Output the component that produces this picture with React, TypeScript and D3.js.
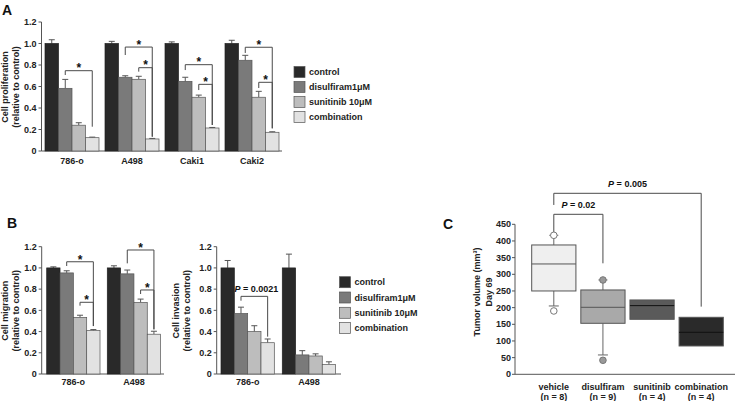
import React from "react";
import * as d3 from "d3";

// ---------- DATA ----------
const SERIES = ["control", "disulfiram1μM", "sunitinib 10μM", "combination"];
const BAR_COLORS = ["#292929", "#7a7a7a", "#bdbdbd", "#e2e2e2"];

const A_CATS = ["786-o", "A498", "Caki1", "Caki2"];
const A_MEAN = [
  [1.0, 0.583, 0.24, 0.124],
  [1.0, 0.686, 0.667, 0.112],
  [1.0, 0.648, 0.5, 0.214],
  [1.0, 0.844, 0.5, 0.174],
];
const A_ERR = [
  [0.035, 0.083, 0.023, 0.005],
  [0.02, 0.014, 0.028, 0.005],
  [0.015, 0.038, 0.02, 0.005],
  [0.03, 0.046, 0.055, 0.005],
];
// brackets: group, from series, to series, top value, left end, right end, label
const A_BRACKETS = [
  { g: 0, a: 1, b: 3, top: 0.747, le: 0.707, re: 0.226, label: "*" },
  { g: 1, a: 1, b: 3, top: 0.967, le: 0.893, re: 0.133, label: "*" },
  { g: 1, a: 2, b: 3, top: 0.775, le: 0.738, re: 0.133, label: "*" },
  { g: 2, a: 1, b: 3, top: 0.803, le: 0.753, re: 0.242, label: "*" },
  { g: 2, a: 2, b: 3, top: 0.62, le: 0.567, re: 0.242, label: "*" },
  { g: 3, a: 1, b: 3, top: 0.965, le: 0.912, re: 0.211, label: "*" },
  { g: 3, a: 2, b: 3, top: 0.639, le: 0.586, re: 0.211, label: "*" },
];

const B_CATS = ["786-o", "A498"];
const MIG_MEAN = [
  [1.0, 0.953, 0.534, 0.41],
  [1.0, 0.944, 0.675, 0.375],
];
const MIG_ERR = [
  [0.01, 0.02, 0.02, 0.009],
  [0.02, 0.036, 0.031, 0.028],
];
const MIG_BRACKETS = [
  { g: 0, a: 1, b: 3, top: 1.058, le: 1.018, re: 0.452, label: "*" },
  { g: 0, a: 2, b: 3, top: 0.676, le: 0.644, re: 0.452, label: "*" },
  { g: 1, a: 1, b: 3, top: 1.169, le: 1.043, re: 0.421, label: "*" },
  { g: 1, a: 2, b: 3, top: 0.792, le: 0.754, re: 0.421, label: "*" },
];
const INV_MEAN = [
  [1.0, 0.57, 0.4, 0.295],
  [1.0, 0.18, 0.17, 0.09],
];
const INV_ERR = [
  [0.07, 0.06, 0.055, 0.035],
  [0.13, 0.04, 0.02, 0.025],
];
const INV_BRACKETS = [
  { g: 0, a: 1, b: 3, top: 0.732, le: 0.691, re: 0.352, label: "P = 0.0021" },
];

const Y_TICKS_REL = [0, 0.2, 0.4, 0.6, 0.8, 1.0, 1.2];

const C_CATS = ["vehicle", "disulfiram", "sunitinib", "combination"];
const C_N = [8, 9, 4, 4];
const C_Q1 = [250, 153, 165, 85];
const C_MED = [331, 201, 206, 126];
const C_Q3 = [388, 253, 223, 171];
const C_LO = [205, 58, null, null];
const C_HI = [417, 283, null, null];
const C_OUT = [[417, 190], [283, 42], [], []];
const C_FILL = ["#efefef", "#a9a9a9", "#5a5a5a", "#2a2a2a"];
const C_TICKS = [0, 50, 100, 150, 200, 250, 300, 350, 400, 450];
const C_BRACKETS = [
  { a: 0, b: 1, top: 480, le: 426, re: 333, label: "0.02" },
  { a: 0, b: 3, top: 543, le: 508, re: 203, label: "0.005" },
];

// ---------- STYLE ----------
const FONT = "'Liberation Sans', Arial, Helvetica, sans-serif";
const AX = "#555";
const BR = "#4a4a4a";

type BarPanelProps = {
  cats: string[];
  means: number[][];
  errs: number[][];
  brackets: any[];
  axisX: number;
  y0: number;
  y1: number;
  xRange: [number, number];
  padInner: number;
  axisEnd: number;
  labelY: number;
  titleX: [number, number];
  title: string[];
};

function BarPanel(p: BarPanelProps) {
  const y = d3.scaleLinear().domain([0, 1.2]).range([p.y0, p.y1]);
  const xg = d3.scaleBand<string>().domain(p.cats).range(p.xRange).paddingInner(p.padInner).paddingOuter(0);
  const xs = d3.scaleBand<string>().domain(SERIES).range([0, xg.bandwidth()]);
  const bw = xs.bandwidth();
  const fmt = (v: number) => (v === 0 ? "0" : d3.format(".1f")(v));
  const cx = (g: number, s: number) => (xg(p.cats[g]) as number) + (xs(SERIES[s]) as number) + bw / 2;
  const titleCY = (p.y0 + p.y1) / 2 + 0.5;
  return (
    <g>
      {/* y title */}
      {p.title.map((t, i) => (
        <text
          key={i}
          transform={`translate(${p.titleX[i]},${titleCY}) rotate(-90)`}
          textAnchor="middle"
          dominantBaseline="central"
          fontSize={9}
          fontWeight="bold"
          fill="#222"
        >
          {t}
        </text>
      ))}
      {/* axes */}
      <line x1={p.axisX} x2={p.axisX} y1={p.y1} y2={p.y0} stroke={AX} strokeWidth={1} />
      <line x1={p.axisX} x2={p.axisEnd} y1={p.y0} y2={p.y0} stroke={AX} strokeWidth={1} />
      {Y_TICKS_REL.map((t) => (
        <g key={t}>
          <line x1={p.axisX - 3} x2={p.axisX} y1={y(t)} y2={y(t)} stroke={AX} />
          <text x={p.axisX - 5} y={y(t)} dy="0.35em" textAnchor="end" fontSize={9} fontWeight="bold" fill="#222">
            {fmt(t)}
          </text>
        </g>
      ))}
      {/* bars */}
      {p.cats.map((c, gi) => (
        <g key={c}>
          {SERIES.map((s, si) => {
            const x = (xg(c) as number) + (xs(s) as number);
            const v = p.means[gi][si];
            const e = p.errs[gi][si];
            const xc = x + bw / 2;
            return (
              <g key={s}>
                <line x1={xc} x2={xc} y1={y(v)} y2={y(v + e)} stroke="#555" strokeWidth={1} />
                <line x1={xc - 3} x2={xc + 3} y1={y(v + e)} y2={y(v + e)} stroke="#555" strokeWidth={1} />
                <rect x={x} y={y(v)} width={bw} height={p.y0 - y(v)} fill={BAR_COLORS[si]} stroke={si === 0 ? "#222" : "#555"} strokeWidth={0.7} />
              </g>
            );
          })}
          <text x={(xg(c) as number) + xg.bandwidth() / 2} y={p.labelY} textAnchor="middle" fontSize={9} fontWeight="bold" fill="#222">
            {c}
          </text>
        </g>
      ))}
      {/* brackets */}
      {p.brackets.map((b, i) => {
        const xa = cx(b.g, b.a);
        const xb = cx(b.g, b.b);
        const yt = y(b.top);
        const isStar = b.label === "*";
        return (
          <g key={i}>
            <path
              d={`M${xa},${y(b.le)}V${yt}H${xb}V${y(b.re)}`}
              fill="none"
              stroke={BR}
              strokeWidth={1}
            />
            {isStar ? (
              <text x={(xa + xb) / 2} y={yt + 1.8} textAnchor="middle" fontSize={12} fontWeight="bold" fill="#111">
                *
              </text>
            ) : (
              <text x={(xa + xb) / 2 + 2} y={yt - 4.5} textAnchor="middle" fontSize={9} fontWeight="bold" fill="#111">
                <tspan fontStyle="italic">P</tspan>
                {b.label.slice(1)}
              </text>
            )}
          </g>
        );
      })}
    </g>
  );
}

function Legend({ x, y, step }: { x: number; y: number; step: number }) {
  return (
    <g>
      {SERIES.map((s, i) => (
        <g key={s}>
          <rect x={x} y={y + i * step} width={11} height={11} fill={BAR_COLORS[i]} stroke="#555" strokeWidth={0.7} />
          <text x={x + 15} y={y + i * step + 5.5} dy="0.35em" fontSize={9} fontWeight="bold" fill="#222">
            {s}
          </text>
        </g>
      ))}
    </g>
  );
}

function BoxPanel() {
  const y = d3.scaleLinear().domain([0, 450]).range([374.3, 224.3]);
  const x = d3.scaleBand<string>().domain(C_CATS).range([531.7, 723.3]).paddingInner(0.1).paddingOuter(0);
  const bw = x.bandwidth();
  const axisX = 515;
  const cxOf = (i: number) => (x(C_CATS[i]) as number) + bw / 2;
  return (
    <g>
      {/* y title */}
      <text transform={`translate(477,292) rotate(-90)`} textAnchor="middle" dominantBaseline="central" fontSize={9} fontWeight="bold" fill="#222">
        Tumor volume (mm³)
      </text>
      <text transform={`translate(489,292) rotate(-90)`} textAnchor="middle" dominantBaseline="central" fontSize={9} fontWeight="bold" fill="#222">
        Day 69
      </text>
      <line x1={axisX} x2={axisX} y1={y(450)} y2={y(0)} stroke={AX} />
      {C_TICKS.map((t) => (
        <g key={t}>
          <line x1={axisX - 3} x2={axisX} y1={y(t)} y2={y(t)} stroke={AX} />
          <text x={axisX - 4} y={y(t)} dy="0.35em" textAnchor="end" fontSize={9} fontWeight="bold" fill="#222">
            {t}
          </text>
        </g>
      ))}
      {/* brackets */}
      {C_BRACKETS.map((b, i) => {
        const xa = cxOf(b.a);
        const xb = cxOf(b.b);
        const yt = y(b.top);
        return (
          <g key={i}>
            <path d={`M${xa},${y(b.le)}V${yt}H${xb}V${y(b.re)}`} fill="none" stroke={BR} strokeWidth={1} />
            <text x={(xa + xb) / 2} y={yt - 6} textAnchor="middle" fontSize={9} fontWeight="bold" fill="#111">
              <tspan fontStyle="italic">P</tspan> = {b.label}
            </text>
          </g>
        );
      })}
      {C_CATS.map((c, i) => {
        const x0 = x(c) as number;
        const xc = x0 + bw / 2;
        const med = C_MED[i];
        const lo = C_LO[i];
        const hi = C_HI[i];
        const dark = i >= 2;
        return (
          <g key={c}>
            {hi !== null && (
              <g>
                <line x1={xc} x2={xc} y1={y(C_Q3[i])} y2={y(hi)} stroke="#666" />
                <line x1={xc - 4.5} x2={xc + 4.5} y1={y(hi)} y2={y(hi)} stroke="#666" />
              </g>
            )}
            {lo !== null && (
              <g>
                <line x1={xc} x2={xc} y1={y(C_Q1[i])} y2={y(lo)} stroke="#666" />
                <line x1={xc - 5} x2={xc + 5} y1={y(lo)} y2={y(lo)} stroke="#666" />
              </g>
            )}
            <rect x={x0} y={y(C_Q3[i])} width={bw} height={y(C_Q1[i]) - y(C_Q3[i])} fill={C_FILL[i]} stroke="#555" strokeWidth={1} />
            <line x1={x0} x2={x0 + bw} y1={y(med)} y2={y(med)} stroke={dark ? "#111" : "#555"} strokeWidth={1} />
            {C_OUT[i].map((o, k) => (
              <circle key={k} cx={xc} cy={y(o)} r={3.3} fill={i === 0 ? "#fff" : "#999"} stroke="#777" strokeWidth={1} />
            ))}
            <text x={xc} y={389.5} textAnchor="middle" fontSize={9} fontWeight="bold" fill="#222">
              {c}
            </text>
            <text x={xc} y={400} textAnchor="middle" fontSize={9} fontWeight="bold" fill="#222">
              (n = {C_N[i]})
            </text>
          </g>
        );
      })}
      <line x1={axisX} x2={735} y1={y(0)} y2={y(0)} stroke={AX} />
    </g>
  );
}

export default function App() {
  return (
    <svg
      width={740}
      height={401}
      viewBox="0 0 740 401"
      style={{ position: "absolute", left: 0, top: 0, background: "#fff" }}
      fontFamily={FONT}
    >
      <rect x={0} y={0} width={740} height={401} fill="#fff" />
      {/* Panel letters */}
      <text x={2} y={14.5} fontSize={14} fontWeight="bold" fill="#111">A</text>
      <text x={7} y={228} fontSize={14} fontWeight="bold" fill="#111">B</text>
      <text x={443} y={229} fontSize={14} fontWeight="bold" fill="#111">C</text>

      <BarPanel
        cats={A_CATS}
        means={A_MEAN}
        errs={A_ERR}
        brackets={A_BRACKETS}
        axisX={41.5}
        y0={151}
        y1={22}
        xRange={[45, 279]}
        padInner={0.1}
        axisEnd={282}
        labelY={164}
        titleX={[4.5, 15.5]}
        title={["Cell proliferation", "(relative to control)"]}
      />
      <Legend x={294} y={66.5} step={15} />

      <BarPanel
        cats={B_CATS}
        means={MIG_MEAN}
        errs={MIG_ERR}
        brackets={MIG_BRACKETS}
        axisX={41.7}
        y0={374}
        y1={246.7}
        xRange={[46.7, 160.6]}
        padInner={0.12}
        axisEnd={164}
        labelY={384.8}
        titleX={[4.5, 15.5]}
        title={["Cell migration", "(relative to control)"]}
      />
      <BarPanel
        cats={B_CATS}
        means={INV_MEAN}
        errs={INV_ERR}
        brackets={INV_BRACKETS}
        axisX={216.7}
        y0={374}
        y1={246.7}
        xRange={[221, 335.6]}
        padInner={0.13}
        axisEnd={341}
        labelY={384.8}
        titleX={[175.5, 186.5]}
        title={["Cell invasion", "(relative to control)"]}
      />
      <Legend x={339.5} y={276.7} step={15.3} />

      <BoxPanel />
    </svg>
  );
}
